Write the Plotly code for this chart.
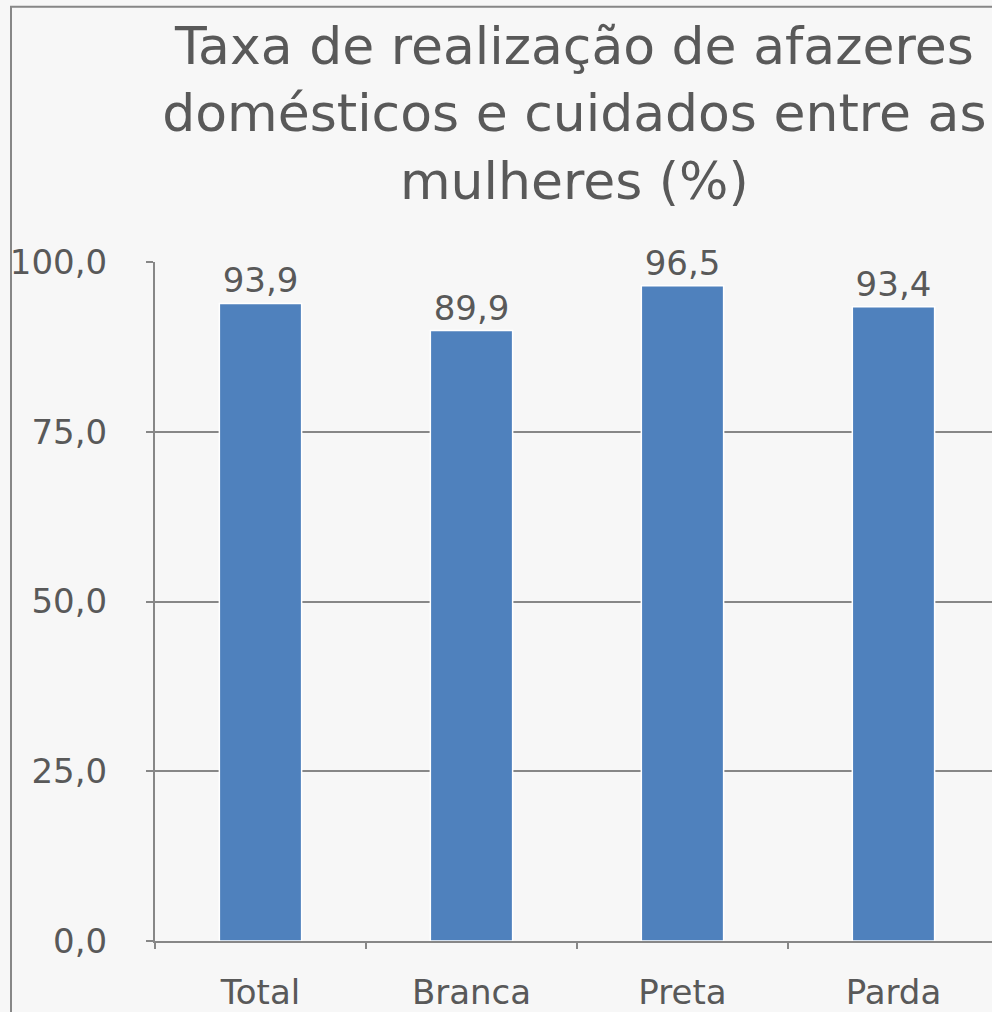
import plotly.graph_objects as go

categories = ["Total", "Branca", "Preta", "Parda"]
values = [93.9, 89.9, 96.5, 93.4]
value_labels = ["93,9", "89,9", "96,5", "93,4"]
y_tick_vals = [0, 25, 50, 75, 100]
y_tick_text = ["0,0", "25,0", "50,0", "75,0", "100,0"]
title_text = "Taxa de realização de afazeres<br>domésticos e cuidados entre as<br>mulheres (%)"

FONT = "DejaVu Sans"
TXT = "#595959"
GRID = "#878787"

fig = go.Figure()
fig.add_trace(go.Bar(
    x=categories, y=values, text=value_labels, textposition="outside",
    textfont=dict(family=FONT, size=34, color=TXT),
    marker=dict(color="#4f81bd", line=dict(color="#ffffff", width=1.5)),
    width=0.39, cliponaxis=False,
))

fig.update_layout(
    width=992, height=1012,
    margin=dict(l=155, r=0, t=262, b=69),
    paper_bgcolor="#f7f7f7", plot_bgcolor="#f7f7f7",
    showlegend=False,
    title=dict(text=title_text, x=0.579, xanchor="center", y=0.937, yanchor="top",
               font=dict(family=FONT, size=52, color=TXT)),
    xaxis=dict(range=[-0.5, 3.467], showline=True, linecolor=GRID, linewidth=2,
               ticks="outside", tickson="boundaries", ticklen=6, tickcolor=GRID, tickwidth=2,
               ticklabelstandoff=20,
               tickfont=dict(family=FONT, size=34, color=TXT), showgrid=False),
    yaxis=dict(range=[0, 100], tickvals=y_tick_vals, ticktext=y_tick_text,
               showline=True, linecolor=GRID, linewidth=2,
               ticks="outside", ticklen=7, tickcolor=GRID, tickwidth=2,
               ticklabelstandoff=32,
               gridcolor=GRID, gridwidth=2, zeroline=False,
               tickfont=dict(family=FONT, size=34, color=TXT)),
)
fig.add_shape(type="rect", xref="paper", yref="paper",
              x0=(11 - 155) / 837, x1=1.2, y0=-0.3, y1=(943 - 6) / 681,
              line=dict(color=GRID, width=2), layer="below")
fig.write_html("out.html", config={"displayModeBar": False},
               post_script="document.body.style.margin='0';")
